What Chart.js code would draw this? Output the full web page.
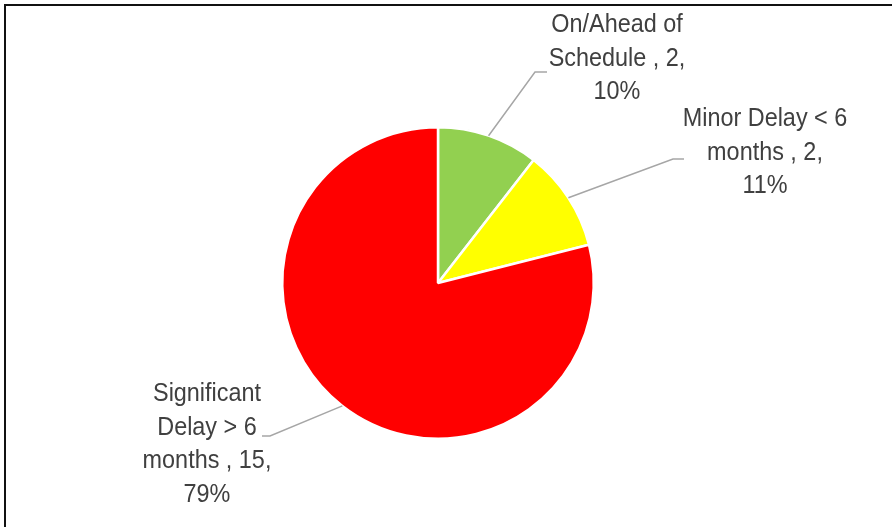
<!DOCTYPE html>
<html>
<head>
<meta charset="utf-8">
<script src="https://cdn.jsdelivr.net/npm/chart.js@4.4.0/dist/chart.umd.min.js"></script>
<style>
  html, body { margin: 0; padding: 0; background: #fff; }
  #wrap { position: relative; width: 892px; height: 529px; overflow: hidden; }
  #frame { position: absolute; left: 4px; top: 4px; width: 888px; height: 523px;
           border-top: 2px solid #111; border-left: 2px solid #111; box-sizing: border-box; }
  canvas { position: absolute; left: 0; top: 0; }
</style>
</head>
<body>
<div id="wrap">
  <div id="frame"></div>
  <canvas id="pie" width="892" height="529"></canvas>
</div>
<script>
// Project schedule status
const statusNames = ['On/Ahead of Schedule', 'Minor Delay < 6 months', 'Significant Delay > 6 months'];
const projectCounts = [2, 2, 15];
const sharePercent = [10, 11, 79];
const sliceColors = ['#92d050', '#ffff00', '#ff0000'];

// How each data label wraps, plus where its text block and leader elbow sit
const labelLines = [
    ['On/Ahead of', 'Schedule , ' + projectCounts[0] + ',', sharePercent[0] + '%'],
    ['Minor Delay < 6', 'months , ' + projectCounts[1] + ',', sharePercent[1] + '%'],
    ['Significant', 'Delay > 6', 'months , ' + projectCounts[2] + ',', sharePercent[2] + '%']
];
const labelBoxes = [
    { cx: 617, top: 25, elbow: [535, 72], end: [547, 72] },
    { cx: 765, top: 119, elbow: [673, 159], end: [684, 159] },
    { cx: 207, top: 394, elbow: [270, 436], end: [262, 436] }
];
const LINE_H = 33.5;
const SQUEEZE = 0.9; // narrow the sans face a little, like a condensed font

const calloutLabels = {
    id: 'calloutLabels',
    afterDatasetsDraw(chart) {
        const ctx = chart.ctx;
        const meta = chart.getDatasetMeta(0);
        meta.data.forEach((arc, i) => {
            const mid = (arc.startAngle + arc.endAngle) / 2;
            const sx = arc.x + Math.cos(mid) * arc.outerRadius;
            const sy = arc.y + Math.sin(mid) * arc.outerRadius;
            const box = labelBoxes[i];

            // leader line: slice edge -> elbow -> short horizontal run
            ctx.save();
            ctx.strokeStyle = '#a6a6a6';
            ctx.lineWidth = 1.5;
            ctx.beginPath();
            ctx.moveTo(sx, sy);
            ctx.lineTo(box.elbow[0], box.elbow[1]);
            ctx.lineTo(box.end[0], box.end[1]);
            ctx.stroke();
            ctx.restore();

            ctx.save();
            ctx.fillStyle = '#404040';
            ctx.font = '26px "Liberation Sans", Arial, sans-serif';
            ctx.textAlign = 'center';
            ctx.textBaseline = 'middle';
            ctx.translate(box.cx, 0);
            ctx.scale(SQUEEZE, 1);
            labelLines[i].forEach((line, k) => {
                ctx.fillText(line, 0, box.top + k * LINE_H);
            });
            ctx.restore();
        });
    }
};

new Chart(document.getElementById('pie').getContext('2d'), {
    type: 'pie',
    data: {
        labels: statusNames,
        datasets: [{
            data: projectCounts,
            backgroundColor: sliceColors,
            borderColor: '#ffffff',
            borderWidth: 2.5
        }]
    },
    options: {
        responsive: false,
        animation: false,
        layout: { padding: { top: 126, bottom: 89, left: 0, right: 16 } },
        plugins: {
            legend: { display: false },
            tooltip: { enabled: false }
        }
    },
    plugins: [calloutLabels]
});
</script>
</body>
</html>
